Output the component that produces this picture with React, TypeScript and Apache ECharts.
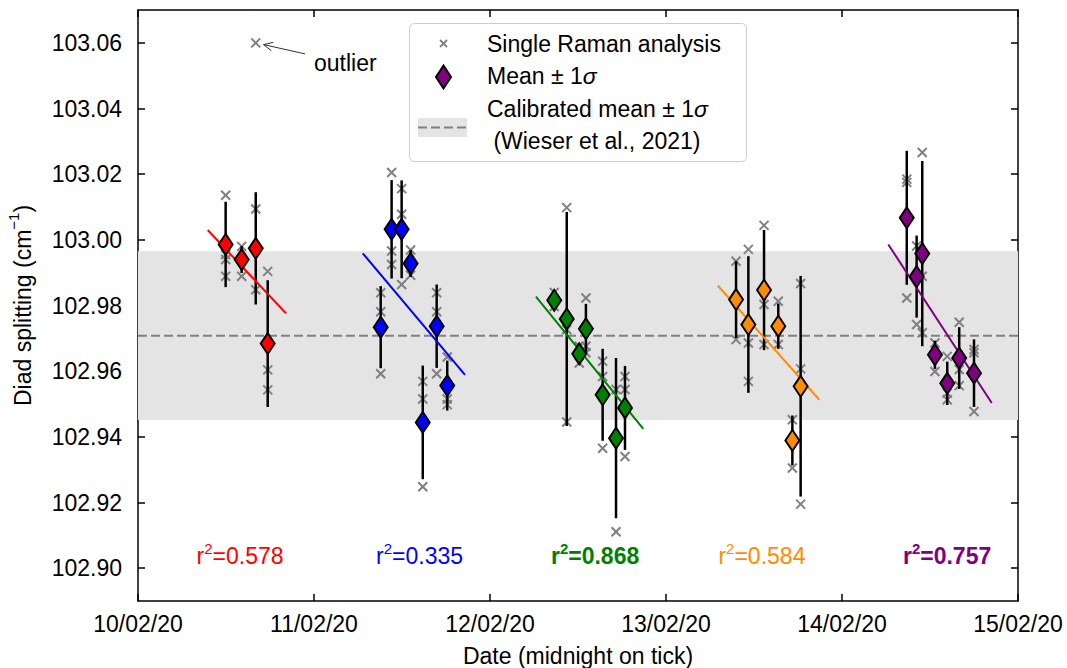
import React, { useEffect, useRef } from 'react';
import * as echarts from 'echarts';

// ---------- axes ----------
const X_TICKS = [0, 1, 2, 3, 4, 5]; // days after 10/02/20 midnight
const X_TICK_LABELS = ['10/02/20', '11/02/20', '12/02/20', '13/02/20', '14/02/20', '15/02/20'];
const Y_TICKS = [102.9, 102.92, 102.94, 102.96, 102.98, 103.0, 103.02, 103.04, 103.06];
const Y_MIN = 102.89;
const Y_MAX = 103.07;

// ---------- calibration (Wieser et al., 2021) ----------
const CAL_MEAN = 102.9708;
const CAL_SD = 0.0257;

// ---------- day 1 (red) ----------
const redTime = [0.498, 0.589, 0.669, 0.737];
const redMean = [102.9986, 102.994, 102.9974, 102.9684];
const redSd = [0.013, 0.0041, 0.0171, 0.0193];
const redSingles = [
  [103.0136, 102.9955, 102.994, 102.9889],
  [102.998, 102.9889],
  [103.0094, 102.9848, 103.06],
  [102.9904, 102.9604, 102.9543],
];
const redFit = [[0.396, 103.003], [0.841, 102.9776]];

// ---------- day 2 (blue) ----------
const blueTime = [1.379, 1.441, 1.498, 1.549, 1.618, 1.697, 1.757];
const blueMean = [102.9734, 103.0032, 103.0032, 102.9928, 102.9444, 102.9737, 102.9556];
const blueSd = [0.0125, 0.015, 0.0149, 0.0041, 0.0173, 0.0127, 0.0076];
const blueSingles = [
  [102.9839, 102.9781, 102.9592],
  [103.0205, 102.9966, 102.9925],
  [103.0156, 103.0078, 102.9864],
  [102.9969, 102.9892],
  [102.9569, 102.9515, 102.9248],
  [102.9839, 102.9781, 102.9592],
  [102.9643, 102.9515, 102.9498],
];
const blueFit = [[1.277, 102.9959], [1.858, 102.9589]];

// ---------- day 3 (green) ----------
const greenTime = [2.365, 2.436, 2.507, 2.545, 2.64, 2.716, 2.767];
const greenMean = [102.9816, 102.9759, 102.9653, 102.9729, 102.9528, 102.9396, 102.9488];
const greenSd = [0.002, 0.0326, 0.002, 0.0076, 0.014, 0.0244, 0.0128];
const greenSingles = [
  [102.984, 102.9797],
  [103.0098, 102.9445, 102.9727],
  [102.9676, 102.9625],
  [102.9823, 102.9676, 102.9656],
  [102.963, 102.9584, 102.9365],
  [102.9544, 102.9111],
  [102.9584, 102.9544, 102.934],
];
const greenFit = [[2.261, 102.9827], [2.871, 102.9424]];

// ---------- day 4 (orange) ----------
const orangeTime = [3.398, 3.468, 3.557, 3.638, 3.718, 3.765];
const orangeMean = [102.9818, 102.9742, 102.9847, 102.9737, 102.9389, 102.9554];
const orangeSd = [0.0117, 0.0208, 0.0183, 0.0069, 0.0076, 0.0336];
const orangeSingles = [
  [102.9935, 102.9696],
  [102.9971, 102.9686, 102.9569],
  [103.0044, 102.9803, 102.9681],
  [102.9813, 102.9681],
  [102.9452, 102.9305],
  [102.9867, 102.9607, 102.9195],
];
const orangeFit = [[3.294, 102.9861], [3.871, 102.9513]];

// ---------- day 5 (purple) ----------
const purpleTime = [4.368, 4.424, 4.456, 4.528, 4.598, 4.666, 4.75];
const purpleMean = [103.0067, 102.9888, 102.9958, 102.965, 102.9563, 102.964, 102.9594];
const purpleSd = [0.0204, 0.0125, 0.0282, 0.0043, 0.0066, 0.0094, 0.0103];
const purpleSingles = [
  [103.0185, 103.0175, 102.9823],
  [102.9981, 102.9742],
  [103.0266, 102.9889, 102.9717],
  [102.9686, 102.9599],
  [102.9645, 102.9533, 102.9513],
  [102.9749, 102.9605, 102.9556],
  [102.9666, 102.9656, 102.9477],
];
const purpleFit = [[4.263, 102.9986], [4.851, 102.9503]];

// ---------- r² annotations ----------
const r2Values = ['0.578', '0.335', '0.868', '0.584', '0.757'];
const r2Bold = [false, false, true, false, true];
const r2AnchorTime = [0.58, 1.6, 2.597, 3.545, 4.597];
const r2AnchorValue = 102.9;

// ---------- outlier annotation ----------
const outlierPoint = [0.669, 103.06];
const outlierTextAt = [1.0, 103.0539];

const FONT = "'Liberation Sans', Arial, Helvetica, sans-serif";
const FS = 23;

const groups = [
  { color: '#ff0000', time: redTime, mean: redMean, sd: redSd, singles: redSingles, fit: redFit },
  { color: '#0000ff', time: blueTime, mean: blueMean, sd: blueSd, singles: blueSingles, fit: blueFit },
  { color: '#008000', time: greenTime, mean: greenMean, sd: greenSd, singles: greenSingles, fit: greenFit },
  { color: '#ff8c00', time: orangeTime, mean: orangeMean, sd: orangeSd, singles: orangeSingles, fit: orangeFit },
  { color: '#800080', time: purpleTime, mean: purpleMean, sd: purpleSd, singles: purpleSingles, fit: purpleFit },
];

export default function App() {
  const ref = useRef<HTMLDivElement>(null);

  useEffect(() => {
    if (!ref.current) return;
    const chart = echarts.init(ref.current, null, { renderer: 'svg' });

    const crossData: number[][] = [];
    const errData: number[][] = [];
    groups.forEach((g) => {
      g.time.forEach((t, i) => {
        g.singles[i].forEach((v) => crossData.push([t, v]));
        errData.push([t, g.mean[i] - g.sd[i], g.mean[i] + g.sd[i]]);
      });
    });

    const axisLineStyle = { color: '#000', width: 1.5 };

    const series: any[] = [];

    // calibrated band + dashed mean
    series.push({
      type: 'line',
      z: 1,
      silent: true,
      data: [[0, CAL_MEAN], [5, CAL_MEAN]],
      symbol: 'none',
      lineStyle: { color: '#808080', width: 2, type: [9, 4] },
      markArea: {
        silent: true,
        itemStyle: { color: '#e4e4e4' },
        label: { show: false },
        data: [[{ yAxis: CAL_MEAN - CAL_SD }, { yAxis: CAL_MEAN + CAL_SD }]],
      },
    });

    // single analyses (crosses)
    series.push({
      type: 'custom',
      z: 3,
      silent: true,
      data: crossData,
      encode: { x: 0, y: 1 },
      renderItem: (params: any, api: any) => {
        const p = api.coord([api.value(0), api.value(1)]);
        const s = 4.5;
        return {
          type: 'group',
          children: [
            { type: 'line', shape: { x1: p[0] - s, y1: p[1] - s, x2: p[0] + s, y2: p[1] + s }, style: { stroke: '#808080', lineWidth: 2 } },
            { type: 'line', shape: { x1: p[0] - s, y1: p[1] + s, x2: p[0] + s, y2: p[1] - s }, style: { stroke: '#808080', lineWidth: 2 } },
          ],
        };
      },
    });

    // error bars
    series.push({
      type: 'custom',
      z: 4,
      silent: true,
      data: errData,
      encode: { x: 0, y: [1, 2] },
      renderItem: (params: any, api: any) => {
        const a = api.coord([api.value(0), api.value(1)]);
        const b = api.coord([api.value(0), api.value(2)]);
        return { type: 'line', shape: { x1: a[0], y1: a[1], x2: b[0], y2: b[1] }, style: { stroke: '#000', lineWidth: 2.5 } };
      },
    });

    // fit lines
    groups.forEach((g) => {
      series.push({
        type: 'line',
        z: 5,
        silent: true,
        data: g.fit,
        symbol: 'none',
        lineStyle: { color: g.color, width: 2 },
      });
    });

    // means (diamonds)
    groups.forEach((g) => {
      series.push({
        type: 'scatter',
        z: 6,
        silent: true,
        data: g.time.map((t, i) => [t, g.mean[i]]),
        symbol: 'diamond',
        symbolSize: [14, 21],
        itemStyle: { color: g.color, borderColor: '#000', borderWidth: 2, opacity: 1 },
      });
    });

    // r² labels
    series.push({
      type: 'custom',
      z: 7,
      silent: true,
      data: r2AnchorTime.map((t, i) => [t, r2AnchorValue, i]),
      encode: { x: 0, y: 1 },
      renderItem: (params: any, api: any) => {
        const i = api.value(2);
        const p = api.coord([api.value(0), api.value(1)]);
        const color = groups[i].color;
        const weight = r2Bold[i] ? 'bold' : 'normal';
        return {
          type: 'text',
          x: p[0],
          y: p[1] - 1,
          style: {
            text: '{n|r}{s|2}{n|=' + r2Values[i] + '}',
            align: 'center',
            verticalAlign: 'bottom',
            rich: {
              n: { fontSize: FS, fontFamily: FONT, fill: color, fontWeight: weight, lineHeight: 26, verticalAlign: 'bottom' },
              s: { fontSize: 15, fontFamily: FONT, fill: color, fontWeight: weight, lineHeight: 26, verticalAlign: 'top' },
            },
          },
        };
      },
    });

    // outlier annotation
    series.push({
      type: 'custom',
      z: 7,
      silent: true,
      data: [[outlierTextAt[0], outlierTextAt[1], outlierPoint[0], outlierPoint[1]]],
      encode: { x: [0, 2], y: [1, 3] },
      renderItem: (params: any, api: any) => {
        const tp = api.coord([api.value(0), api.value(1)]);
        const op = api.coord([api.value(2), api.value(3)]);
        const tail = [tp[0] - 9, tp[1] - 9];
        const dx = op[0] - tail[0];
        const dy = op[1] - tail[1];
        const len = Math.sqrt(dx * dx + dy * dy);
        const ux = dx / len;
        const uy = dy / len;
        const head = [op[0] - ux * 8, op[1] - uy * 8];
        const ah = 10;
        const ang = 0.45;
        const rot = (x: number, y: number, a: number) => [x * Math.cos(a) - y * Math.sin(a), x * Math.sin(a) + y * Math.cos(a)];
        const r1 = rot(-ux, -uy, ang);
        const r2 = rot(-ux, -uy, -ang);
        return {
          type: 'group',
          children: [
            { type: 'line', shape: { x1: tail[0], y1: tail[1], x2: head[0], y2: head[1] }, style: { stroke: '#333', lineWidth: 1 } },
            {
              type: 'polyline',
              shape: { points: [[head[0] + r1[0] * ah, head[1] + r1[1] * ah], head, [head[0] + r2[0] * ah, head[1] + r2[1] * ah]] },
              style: { stroke: '#333', lineWidth: 1, fill: 'none' },
            },
            {
              type: 'text',
              x: tp[0],
              y: tp[1],
              style: { text: 'outlier', fontSize: FS, fontFamily: FONT, fill: '#000', align: 'left', verticalAlign: 'middle' },
            },
          ],
        };
      },
    });

    // legend (drawn with graphic)
    const LX = 443.5;
    const legend = {
      type: 'group',
      z: 100,
      children: [
        { type: 'rect', shape: { x: 409.5, y: 23.5, width: 337, height: 138, r: 5 }, style: { fill: 'rgba(255,255,255,0.85)', stroke: '#cccccc', lineWidth: 1 } },
        { type: 'line', shape: { x1: LX - 3.5, y1: 40, x2: LX + 3.5, y2: 47 }, style: { stroke: '#808080', lineWidth: 1.8 } },
        { type: 'line', shape: { x1: LX - 3.5, y1: 47, x2: LX + 3.5, y2: 40 }, style: { stroke: '#808080', lineWidth: 1.8 } },
        { type: 'text', x: 487, y: 43.5, style: { text: 'Single Raman analysis', fontSize: FS, fontFamily: FONT, fill: '#000', verticalAlign: 'middle' } },
        {
          type: 'polygon',
          shape: { points: [[LX, 65.5], [LX + 7.5, 77], [LX, 88.5], [LX - 7.5, 77]] },
          style: { fill: '#800080', stroke: '#000', lineWidth: 2 },
        },
        {
          type: 'text',
          x: 487,
          y: 75.5,
          style: {
            text: '{n|Mean ± 1}{i|σ}',
            verticalAlign: 'middle',
            rich: {
              n: { fontSize: FS, fontFamily: FONT, fill: '#000' },
              i: { fontSize: FS, fontFamily: FONT, fill: '#000', fontStyle: 'italic' },
            },
          },
        },
        { type: 'rect', shape: { x: 418, y: 118, width: 49, height: 19 }, style: { fill: '#e4e4e4' } },
        { type: 'line', shape: { x1: 418, y1: 127.5, x2: 467, y2: 127.5 }, style: { stroke: '#808080', lineWidth: 2, lineDash: [9, 4] } },
        {
          type: 'text',
          x: 487,
          y: 109,
          style: {
            text: '{n|Calibrated mean ± 1}{i|σ}',
            verticalAlign: 'middle',
            rich: {
              n: { fontSize: FS, fontFamily: FONT, fill: '#000' },
              i: { fontSize: FS, fontFamily: FONT, fill: '#000', fontStyle: 'italic' },
            },
          },
        },
        { type: 'text', x: 487, y: 141, style: { text: ' (Wieser et al., 2021)', fontSize: FS, fontFamily: FONT, fill: '#000', verticalAlign: 'middle' } },
      ],
    };

    const option: any = {
      animation: false,
      backgroundColor: '#ffffff',
      grid: { left: 138, right: 49, top: 10, bottom: 67, containLabel: false, outerBoundsMode: 'none' },
      xAxis: [
        {
          type: 'value',
          min: 0,
          max: 5,
          interval: 1,
          position: 'bottom',
          name: 'Date (midnight on tick)',
          nameLocation: 'middle',
          nameGap: 43,
          nameTextStyle: { fontSize: FS, fontFamily: FONT, color: '#000' },
          axisLine: { show: true, onZero: false, lineStyle: axisLineStyle },
          axisTick: { show: true, inside: true, length: 7, lineStyle: { color: '#000', width: 1.5 } },
          axisLabel: {
            show: true,
            margin: 11,
            fontSize: FS,
            fontFamily: FONT,
            color: '#000',
            showMinLabel: true,
            showMaxLabel: true,
            formatter: (v: number) => X_TICK_LABELS[X_TICKS.indexOf(Math.round(v))] ?? '',
          },
          splitLine: { show: false },
        },
        {
          type: 'value',
          min: 0,
          max: 5,
          interval: 1,
          position: 'top',
          axisLine: { show: true, onZero: false, lineStyle: axisLineStyle },
          axisTick: { show: true, inside: true, length: 7, lineStyle: { color: '#000', width: 1.5 } },
          axisLabel: { show: false },
          splitLine: { show: false },
        },
      ],
      yAxis: [
        {
          type: 'value',
          min: Y_MIN,
          max: Y_MAX,
          position: 'left',
          name: '{n|Diad splitting (cm}{s|−1}{n|)}',
          nameLocation: 'middle',
          nameGap: 104,
          nameTextStyle: {
            color: '#000',
            rich: {
              n: { fontSize: FS, fontFamily: FONT, color: '#000', lineHeight: 28, verticalAlign: 'bottom' },
              s: { fontSize: 15, fontFamily: FONT, color: '#000', lineHeight: 28, verticalAlign: 'top' },
            },
          },
          axisLine: { show: true, onZero: false, lineStyle: axisLineStyle },
          axisTick: { show: true, inside: true, length: 7, customValues: Y_TICKS, lineStyle: { color: '#000', width: 1.5 } },
          axisLabel: {
            show: true,
            margin: 16,
            fontSize: FS,
            fontFamily: FONT,
            color: '#000',
            customValues: Y_TICKS,
            formatter: (v: number) => v.toFixed(2),
          },
          splitLine: { show: false },
        },
        {
          type: 'value',
          min: Y_MIN,
          max: Y_MAX,
          position: 'right',
          axisLine: { show: true, onZero: false, lineStyle: axisLineStyle },
          axisTick: { show: true, inside: true, length: 7, customValues: Y_TICKS, lineStyle: { color: '#000', width: 1.5 } },
          axisLabel: { show: false, customValues: Y_TICKS },
          splitLine: { show: false },
        },
      ],
      graphic: [legend],
      series,
    };

    chart.setOption(option);
    return () => chart.dispose();
  }, []);

  return <div ref={ref} style={{ position: 'fixed', left: 0, top: 0, width: 1067, height: 668, background: '#fff' }} />;
}
